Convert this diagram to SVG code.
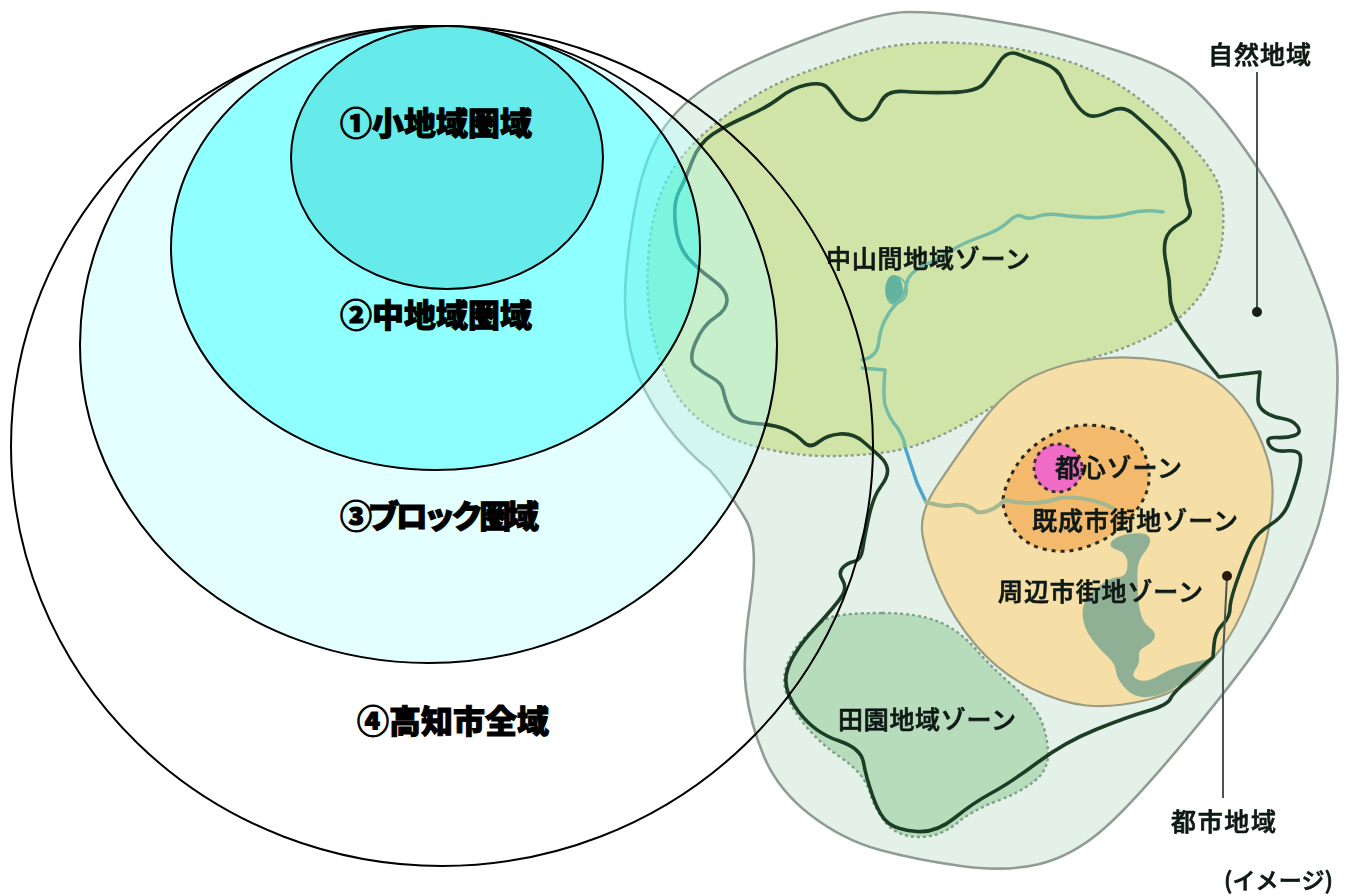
<svg xmlns="http://www.w3.org/2000/svg" width="1346" height="896" viewBox="0 0 1346 896">
<style>
text{font-family:"Noto Sans CJK JP","Noto Sans",sans-serif}
.m{font-size:25px;fill:#101a14;font-weight:500;stroke:#101a14;stroke-width:.7px}
.t{font-size:32px;font-weight:900;fill:#000;stroke:#000;stroke-width:1px}
.c{stroke:#000;stroke-width:2}
.b{fill:none;stroke:#1d3d26;stroke-width:3.6;stroke-linejoin:round;stroke-linecap:round}
.r{fill:none;stroke:#74bca4;stroke-width:3.4;stroke-linejoin:round;stroke-linecap:round}
.l{fill:none;stroke:#4c5450;stroke-width:2}
</style>
<defs><filter id="soft" x="-5%" y="-5%" width="110%" height="110%"><feGaussianBlur stdDeviation="0.6"/></filter></defs>
<rect width="1346" height="896" fill="#fff"/>
<g id="map" filter="url(#soft)">
<g id="natural-area"><path fill="#e4f1e8" stroke="#8f9d95" stroke-width="2.6" d="M908 12 Q936 12 963.5 16 Q991 20 1026 26.5 Q1061 33 1116.5 50.5 Q1172 68 1193 87.5 Q1214 107 1236 137 Q1258 167 1275.5 197 Q1293 227 1311.5 272 Q1330 317 1335 342 Q1340 367 1335 432 Q1330 497 1311.5 545 Q1293 593 1269.5 630 Q1246 667 1188 737 Q1130 807 1100 832 Q1070 857 1037.5 864.5 Q1005 872 961 866 Q917 860 880 850 Q843 840 810.5 815 Q778 790 764 756.5 Q750 723 746 690 Q742 657 750.5 600 Q759 543 746 520 Q733 497 710 470 Q687 453 665 423 Q643 393 634 363 Q625 333 625 300 Q625 267 634 213.5 Q643 160 661.5 131.5 Q680 103 715 81.5 Q750 60 815 36 Q880 12 908 12Z"/></g>
<g id="mountain-zone"><path fill="#d1e4a8" stroke="#8aa08a" stroke-width="2.4" stroke-dasharray="3 3" d="M944.5 42.5 Q991 43 1037.5 53 Q1084 63 1119 85 Q1154 107 1186 140 Q1218 173 1221.5 195 Q1225 217 1222 242 Q1219 267 1202.5 292 Q1186 317 1158 332 Q1130 347 1107 353.5 Q1084 360 1056 371.5 Q1028 383 1000.5 401.5 Q973 420 945 433.5 Q917 447 893.5 451 Q870 455 838 456 Q806 457 771 450 Q736 443 713 429 Q690 415 676 394 Q662 373 653.5 336.5 Q645 300 648.5 253.5 Q652 207 668.5 177 Q685 147 722 118.5 Q759 90 794 76.5 Q829 63 863.5 52.5 Q898 42 944.5 42.5Z"/></g>
<g id="paddy-zone"><path fill="#b6dcbc" stroke="#80a08a" stroke-width="2.4" stroke-dasharray="3 3" d="M882 613 Q917 613 938 621.5 Q959 630 975 648.5 Q991 667 1012 685 Q1033 703 1040 718 Q1047 733 1048 751.5 Q1049 770 1034 781.5 Q1019 793 996 801.5 Q973 810 956.5 823.5 Q940 837 919 837 Q898 837 886.5 823.5 Q875 810 869.5 791.5 Q864 773 839.5 756.5 Q815 740 798.5 716.5 Q782 693 784.5 675 Q787 657 803.5 638.5 Q820 620 833.5 616.5 Q847 613 882 613Z"/></g>
<g id="urban-zone"><path fill="#f5dfa6" stroke="#9a9c84" stroke-width="2.2" d="M1165 361 Q1200 367 1222.5 386 Q1245 405 1257.5 432.5 Q1270 460 1272 480 Q1274 500 1269.5 525 Q1265 550 1253.5 583.5 Q1242 617 1228 638.5 Q1214 660 1195.5 676.5 Q1177 693 1144.5 700.5 Q1112 708 1086.5 705.5 Q1061 703 1030.5 688 Q1000 673 977 646.5 Q954 620 940 588.5 Q926 557 922.5 535 Q919 513 936.5 486.5 Q954 460 979.5 425 Q1005 390 1033 376.5 Q1061 363 1095.5 359 Q1130 355 1165 361Z"/></g>
<g id="built-up-zone"><path fill="#f3ba6e" stroke="#2a2a1c" stroke-width="3" stroke-dasharray="4 5" d="M1111.5 428 Q1133 433 1141.5 448 Q1150 463 1149 480 Q1148 497 1132.5 515 Q1117 533 1102 540.5 Q1087 548 1072 550.5 Q1057 553 1040 548 Q1023 543 1013 528 Q1003 513 1003 501.5 Q1003 490 1013 471.5 Q1023 453 1040 441.5 Q1057 430 1073.5 426.5 Q1090 423 1111.5 428Z"/></g>
<g id="centre-zone"><ellipse cx="1058" cy="468" rx="24" ry="24" fill="#f06cc6" stroke="#3a2a3a" stroke-width="2.8" stroke-dasharray="4 4"/></g>
<g id="water">
<path fill="#8fb094" d="M1112 541 Q1117 535 1132 533.5 Q1147 532 1149.5 537.5 Q1152 543 1145 551.5 Q1138 560 1137.5 570 Q1137 580 1138.5 600 Q1140 620 1148.5 626.5 Q1157 633 1154.5 638 Q1152 643 1145 646.5 Q1138 650 1139 656.5 Q1140 663 1135 670 Q1130 677 1138.5 680 Q1147 683 1160 675 Q1173 667 1193 662.5 L1213 658 L1193 675 Q1173 692 1155 696 Q1137 700 1127 690 Q1117 680 1116 671.5 Q1115 663 1107.5 656.5 Q1100 650 1091.5 638.5 Q1083 627 1082.5 613.5 Q1082 600 1096 588.5 Q1110 577 1118.5 577 Q1127 577 1127.5 565 Q1128 553 1117.5 550 Q1107 547 1112 541Z"/>
<ellipse cx="894" cy="290" rx="9" ry="15" fill="#63b3a0"/>
<path class="r" d="M1163 212 Q1144 209 1128 213.5 Q1112 218 1093.5 217.5 Q1075 217 1061 215 Q1047 213 1037.5 216.5 Q1028 220 1022.5 216.5 Q1017 213 1008.5 221.5 Q1000 230 981.5 236.5 Q963 243 951.5 250.5 Q940 258 924 265.5 Q908 273 906.5 284 Q905 295 897.5 302.5 Q890 310 885 320 Q880 330 878.5 343.5 Q877 357 862 360"/>
<path class="r" d="M862 368 L885 370 Q883 395 885 405 Q890 420 897 427 Q905 440 905 447"/>
<path class="r" style="stroke-width:2" d="M899 277 Q911 285 905 298 Q896 308 889 300"/>
<path fill="none" stroke="#4ba6cf" stroke-width="3.4" d="M905 447 L917 483 L926 502"/>
<path class="r" style="stroke:#a3b891;stroke-width:4" d="M926 502 Q945 508 955 505 Q968 503 977 512 Q990 514 1005 500 Q1033 507 1060 498 Q1087 495 1113 508"/>
</g>
<g id="boundary"><path class="b" d="M713 134 Q727 125 747.5 116 Q768 107 780 97.5 Q792 88 806 85 Q820 82 825.5 86 Q831 90 839 102.5 Q847 115 855.5 118.5 Q864 122 869.5 117.5 Q875 113 881 101.5 Q887 90 904.5 91.5 Q922 93 949.5 92.5 Q977 92 984 83.5 Q991 75 999 62.5 Q1007 50 1017.5 54 Q1028 58 1043 63 Q1058 68 1063 80.5 Q1068 93 1076 104 Q1084 115 1091 116 Q1098 117 1110.5 111 Q1123 105 1133.5 114 Q1144 123 1158 136.5 Q1172 150 1178 161.5 Q1184 173 1185 186.5 Q1186 200 1189.5 208.5 Q1193 217 1180.5 223.5 Q1168 230 1165.5 240 Q1163 250 1166.5 265 Q1170 280 1170 295 Q1170 310 1182.5 328.5 Q1195 347 1207 362 L1219 377 L1260 372 Q1258 392 1258 400 Q1258 407 1265 412 Q1272 417 1282.5 418.5 Q1293 420 1297.5 426.5 Q1302 433 1294.5 435.5 Q1287 438 1276 437.5 Q1265 437 1269 444.5 Q1273 452 1285.5 451 Q1298 450 1300 455 Q1302 460 1297.5 476.5 Q1293 493 1288 505 Q1283 517 1270 525 Q1257 533 1252 543 Q1247 553 1238.5 576.5 Q1230 600 1230 608.5 Q1230 617 1222.5 624.5 Q1215 632 1214 644.5 L1213 657 Q1173 692 1170.5 698.5 Q1168 705 1147.5 711 Q1127 717 1096 729.5 Q1065 742 1037.5 762.5 Q1010 783 991.5 793 Q973 803 954.5 818 Q936 833 917 831.5 Q898 830 889 823.5 Q880 817 873 797 Q866 777 863.5 762.5 Q861 748 838 740.5 Q815 733 798.5 711.5 Q782 690 787 671.5 Q792 653 815 628 Q838 603 842.5 595 Q847 587 842.5 580 Q838 573 842.5 568 Q847 563 854 561.5 Q861 560 862.5 550 Q864 540 868.5 518.5 Q873 497 880.5 487 Q888 477 887.5 470 Q887 463 880 456.5 Q873 450 863 441.5 Q853 433 840 434 Q827 435 818.5 442 Q810 449 803.5 442 Q797 435 787 430 Q777 425 756 423.5 Q735 422 730 411 Q725 400 723.5 391.5 Q722 383 712.5 378 Q703 373 695.5 366.5 Q688 360 695.5 342.5 Q703 325 715 317.5 Q727 310 727 300 Q727 290 713 280 Q699 270 688.5 258.5 Q678 247 675.5 225 Q673 203 679 191.5 Q685 180 692 161.5 Q699 143 713 134Z"/></g>
<g id="map-labels">
<text class="m" x="826" y="268" textLength="204">中山間地域ゾーン</text>
<text class="m" x="1055" y="477" textLength="127">都心ゾーン</text>
<text class="m" x="1032" y="530" textLength="206">既成市街地ゾーン</text>
<text class="m" x="998" y="601" textLength="205">周辺市街地ゾーン</text>
<text class="m" x="838" y="729" textLength="178">田園地域ゾーン</text>
<text class="m" x="1208" y="64" textLength="103">自然地域</text>
<text class="m" x="1171" y="831" textLength="105">都市地域</text>
<text class="m" x="1224" y="889" textLength="109" style="font-size:23px">(イメージ)</text>
</g>
<g id="leaders">
<path class="l" d="M1257 72 V312"/><circle cx="1257" cy="312" r="5" fill="#1b1b1b"/>
<path class="l" d="M1227 576 L1223 657 V798"/><circle cx="1227" cy="576" r="5" fill="#2a1a0a"/>
</g>
</g>
<g id="area-4"><ellipse class="c" cx="442" cy="446" rx="431" ry="420" fill="none"/></g>
<g id="area-3"><ellipse class="c" cx="428.5" cy="344.5" rx="348.5" ry="318.5" fill="#b9ffff" fill-opacity="0.4"/></g>
<g id="area-2"><ellipse class="c" cx="435.5" cy="248" rx="264.5" ry="222" fill="#00ffff" fill-opacity="0.37"/></g>
<g id="area-1"><ellipse class="c" cx="447" cy="157.5" rx="156" ry="131.5" fill="#66eaea"/></g>
<g id="area-labels">
<text class="t" x="340" y="135" textLength="192">①小地域圏域</text>
<text class="t" x="340" y="327" textLength="192">②中地域圏域</text>
<text class="t" x="340" y="528" textLength="199">③ブロック圏域</text>
<text class="t" x="357" y="733" textLength="192">④高知市全域</text>
</g>
</svg>
